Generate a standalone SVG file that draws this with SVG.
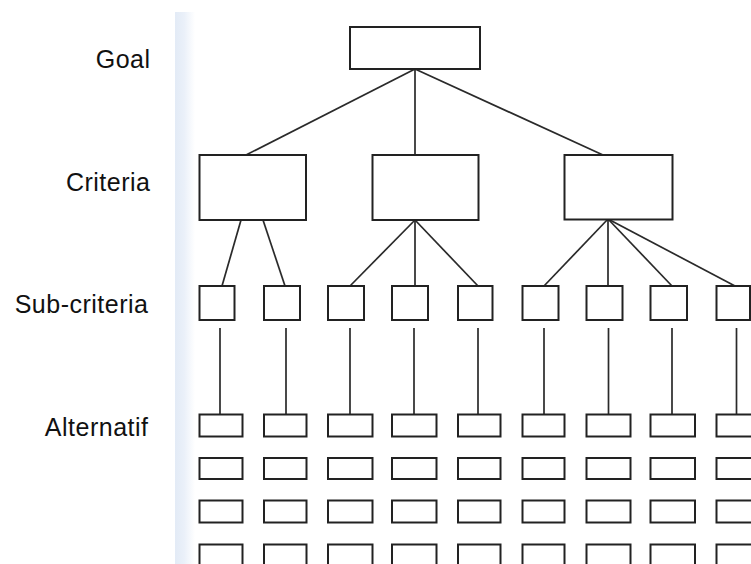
<svg xmlns="http://www.w3.org/2000/svg" width="751" height="564" viewBox="0 0 751 564">
<defs>
<linearGradient id="band" x1="0" y1="0" x2="1" y2="0">
<stop offset="0" stop-color="#e3ebf6"/>
<stop offset="0.45" stop-color="#eaf0f9"/>
<stop offset="1" stop-color="#ffffff"/>
</linearGradient>
<style>
.box{fill:#fff;stroke:#222;stroke-width:2}
.ln{stroke:#2a2a2a;stroke-width:1.7;fill:none}
.lbl{font-family:"Liberation Sans",Arial,sans-serif;font-size:25px;letter-spacing:0.5px;fill:#111;text-anchor:end}
</style>
</defs>
<rect width="751" height="564" fill="#fff"/>
<rect x="175" y="12" width="20" height="552" fill="url(#band)"/>
<g id="labels">
<text class="lbl" x="150.5" y="68">Goal</text>
<text class="lbl" x="150.5" y="191">Criteria</text>
<text class="lbl" x="148.5" y="313">Sub-criteria</text>
<text class="lbl" x="148.5" y="436">Alternatif</text>
</g>
<g id="connectors">
<line class="ln" x1="415" y1="69" x2="246" y2="155"/>
<line class="ln" x1="415" y1="69" x2="415" y2="155"/>
<line class="ln" x1="415" y1="69" x2="603" y2="155"/>
<line class="ln" x1="241" y1="220" x2="222" y2="286"/>
<line class="ln" x1="263" y1="220" x2="285" y2="286"/>
<line class="ln" x1="415" y1="220" x2="350" y2="286"/>
<line class="ln" x1="415" y1="220" x2="415" y2="286"/>
<line class="ln" x1="415" y1="220" x2="478" y2="286"/>
<line class="ln" x1="608" y1="219" x2="544" y2="286"/>
<line class="ln" x1="608" y1="219" x2="608" y2="286"/>
<line class="ln" x1="608" y1="219" x2="672" y2="286"/>
<line class="ln" x1="608" y1="219" x2="735" y2="286"/>
<line class="ln" x1="220" y1="328" x2="220" y2="414"/>
<line class="ln" x1="286" y1="328" x2="286" y2="414"/>
<line class="ln" x1="350" y1="328" x2="350" y2="414"/>
<line class="ln" x1="414" y1="328" x2="414" y2="414"/>
<line class="ln" x1="478" y1="328" x2="478" y2="414"/>
<line class="ln" x1="544" y1="328" x2="544" y2="414"/>
<line class="ln" x1="608.5" y1="328" x2="608.5" y2="414"/>
<line class="ln" x1="672" y1="328" x2="672" y2="414"/>
<line class="ln" x1="736.5" y1="328" x2="736.5" y2="414"/>
</g>
<g id="goal"><rect class="box" x="350" y="27" width="130" height="42"/></g>
<g id="crit1"><rect class="box" x="199.5" y="155" width="106.5" height="65"/></g>
<g id="crit2"><rect class="box" x="372.5" y="155" width="106" height="65"/></g>
<g id="crit3"><rect class="box" x="564.5" y="155" width="108" height="64.5"/></g>
<g id="sub1"><rect class="box" x="199.5" y="286" width="35" height="34"/></g>
<g id="sub2"><rect class="box" x="264" y="286" width="36" height="34"/></g>
<g id="sub3"><rect class="box" x="328" y="286" width="36" height="34"/></g>
<g id="sub4"><rect class="box" x="392" y="286" width="36" height="34"/></g>
<g id="sub5"><rect class="box" x="458" y="286" width="34.5" height="34"/></g>
<g id="sub6"><rect class="box" x="522.5" y="286" width="36" height="34"/></g>
<g id="sub7"><rect class="box" x="586.5" y="286" width="36" height="34"/></g>
<g id="sub8"><rect class="box" x="650.5" y="286" width="36.5" height="34"/></g>
<g id="sub9"><rect class="box" x="716.5" y="286" width="33.5" height="34"/></g>
<g id="alternatives">
<g id="alt-col1">
<rect class="box" x="199.5" y="414.5" width="43" height="22"/>
<rect class="box" x="199.5" y="458" width="43" height="21"/>
<rect class="box" x="199.5" y="500.5" width="43" height="22"/>
<rect class="box" x="199.5" y="544.5" width="43" height="22"/>
</g>
<g id="alt-col2">
<rect class="box" x="264" y="414.5" width="42.5" height="22"/>
<rect class="box" x="264" y="458" width="42.5" height="21"/>
<rect class="box" x="264" y="500.5" width="42.5" height="22"/>
<rect class="box" x="264" y="544.5" width="42.5" height="22"/>
</g>
<g id="alt-col3">
<rect class="box" x="328" y="414.5" width="44.5" height="22"/>
<rect class="box" x="328" y="458" width="44.5" height="21"/>
<rect class="box" x="328" y="500.5" width="44.5" height="22"/>
<rect class="box" x="328" y="544.5" width="44.5" height="22"/>
</g>
<g id="alt-col4">
<rect class="box" x="392" y="414.5" width="44.5" height="22"/>
<rect class="box" x="392" y="458" width="44.5" height="21"/>
<rect class="box" x="392" y="500.5" width="44.5" height="22"/>
<rect class="box" x="392" y="544.5" width="44.5" height="22"/>
</g>
<g id="alt-col5">
<rect class="box" x="458" y="414.5" width="42.5" height="22"/>
<rect class="box" x="458" y="458" width="42.5" height="21"/>
<rect class="box" x="458" y="500.5" width="42.5" height="22"/>
<rect class="box" x="458" y="544.5" width="42.5" height="22"/>
</g>
<g id="alt-col6">
<rect class="box" x="522.5" y="414.5" width="42" height="22"/>
<rect class="box" x="522.5" y="458" width="42" height="21"/>
<rect class="box" x="522.5" y="500.5" width="42" height="22"/>
<rect class="box" x="522.5" y="544.5" width="42" height="22"/>
</g>
<g id="alt-col7">
<rect class="box" x="586.5" y="414.5" width="44" height="22"/>
<rect class="box" x="586.5" y="458" width="44" height="21"/>
<rect class="box" x="586.5" y="500.5" width="44" height="22"/>
<rect class="box" x="586.5" y="544.5" width="44" height="22"/>
</g>
<g id="alt-col8">
<rect class="box" x="650.5" y="414.5" width="44.5" height="22"/>
<rect class="box" x="650.5" y="458" width="44.5" height="21"/>
<rect class="box" x="650.5" y="500.5" width="44.5" height="22"/>
<rect class="box" x="650.5" y="544.5" width="44.5" height="22"/>
</g>
<g id="alt-col9">
<rect class="box" x="716.5" y="414.5" width="44" height="22"/>
<rect class="box" x="716.5" y="458" width="44" height="21"/>
<rect class="box" x="716.5" y="500.5" width="44" height="22"/>
<rect class="box" x="716.5" y="544.5" width="44" height="22"/>
</g>
</g>
</svg>
